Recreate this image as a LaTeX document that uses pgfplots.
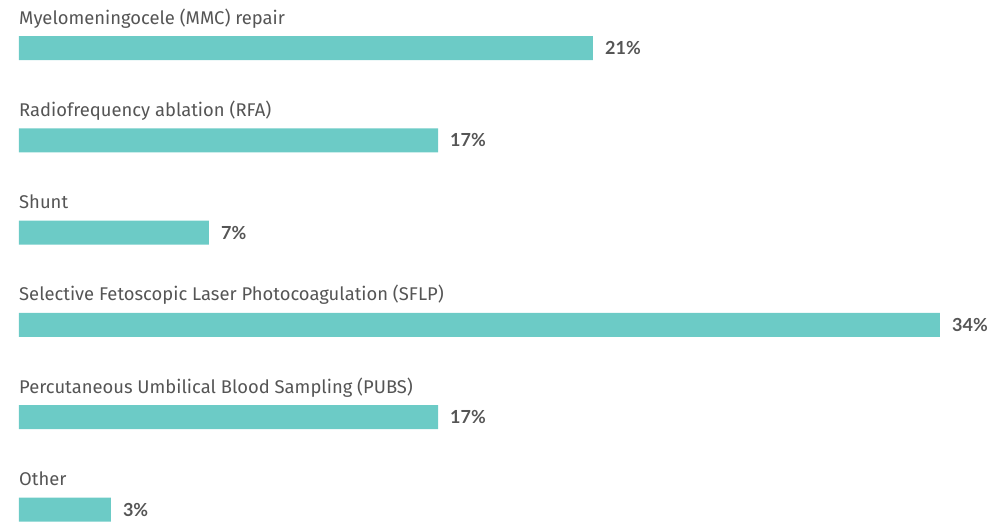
\documentclass[border=0pt]{standalone}
\usepackage{fontspec}
\setmainfont{Fira Sans}
\newfontfamily\valfont{Lato}
\usepackage{pgfplots}
\pgfplotsset{compat=1.18}
\definecolor{barc}{HTML}{6CCBC6}
\definecolor{txt}{HTML}{555555}
\begin{document}
\begin{tikzpicture}
\useasboundingbox (0,0) rectangle (991pt,523pt);
\begin{axis}[at={(0,0)}, anchor=south west, scale only axis,
  width=991pt, height=523pt,
  xmin=-0.7014, xmax=35.884, ymin=-0.52, ymax=5.146, y dir=reverse,
  hide axis, clip=false, xbar, bar width=24pt,
  point meta=explicit,
  /pgf/number format/assume math mode=true,
  nodes near coords={\pgfmathprintnumber[fixed,precision=0,assume math mode=true]{\pgfplotspointmeta}\%},
  nodes near coords style={anchor=west, inner sep=0pt, xshift=12pt,
    font=\valfont\bfseries\fontsize{18}{21}\selectfont, text=txt}]
\addplot[fill=barc, draw=none] table[x=x, y=y, meta=v] {
x y v
21.19 0 21
15.47 1 17
7.01 2 7
34.00 3 34
15.47 4 17
3.39 5 3
};
\tikzset{lab/.style={anchor=base west, inner sep=0pt, yshift=24pt, text=txt, font=\fontsize{18.4}{20}\selectfont}}
\node[lab] at (axis cs:0,0) {Myelomeningocele (MMC) repair};
\node[lab] at (axis cs:0,1) {Radiofrequency ablation (RFA)};
\node[lab] at (axis cs:0,2) {Shunt};
\node[lab] at (axis cs:0,3) {Selective Fetoscopic Laser Photocoagulation (SFLP)};
\node[lab] at (axis cs:0,4) {Percutaneous Umbilical Blood Sampling (PUBS)};
\node[lab] at (axis cs:0,5) {Other};
\end{axis}
\end{tikzpicture}
\end{document}
